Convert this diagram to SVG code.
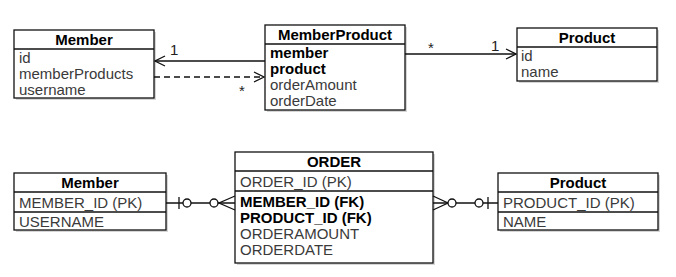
<svg xmlns="http://www.w3.org/2000/svg" width="676" height="277" viewBox="0 0 676 277">
<defs>
<style>
.box{fill:#fff;stroke:#111;stroke-width:1.3}
.sh{fill:#bbb;opacity:0.6}
.sep{stroke:#111;stroke-width:1.3}
.t{font-family:"Liberation Sans",Arial,sans-serif;font-size:15px;font-weight:bold;fill:#000;text-anchor:middle}
.a{font-family:"Liberation Sans",Arial,sans-serif;font-size:15px;fill:#3a3a3a}
.b{font-family:"Liberation Sans",Arial,sans-serif;font-size:15px;font-weight:bold;fill:#000}
.l{font-family:"Liberation Sans",Arial,sans-serif;font-size:15px;fill:#222}
.c{stroke:#111;stroke-width:1.3;fill:none}
.o{stroke:#111;stroke-width:1.3;fill:#fff}
</style>
<marker id="open" viewBox="0 0 12 12" refX="11" refY="6" markerWidth="12" markerHeight="12" markerUnits="userSpaceOnUse" orient="auto">
<path d="M1,1 L11,6 L1,11" fill="none" stroke="#111" stroke-width="1.3"/>
</marker>
</defs>

<g id="member-top">
<rect class="sh" x="16" y="32" width="140" height="68"/>
<rect class="box" x="14" y="30" width="140" height="68"/>
<line class="sep" x1="14" y1="49" x2="154" y2="49"/>
<text class="t" x="84" y="45">Member</text>
<text class="a" x="19" y="63">id</text>
<text class="a" x="19" y="79">memberProducts</text>
<text class="a" x="19" y="95">username</text>
</g>

<g id="memberproduct-top">
<rect class="sh" x="267" y="27" width="140" height="85"/>
<rect class="box" x="265" y="25" width="140" height="85"/>
<line class="sep" x1="265" y1="44" x2="405" y2="44"/>
<text class="t" x="335" y="40">MemberProduct</text>
<text class="b" x="270" y="58">member</text>
<text class="b" x="270" y="74">product</text>
<text class="a" x="270" y="90">orderAmount</text>
<text class="a" x="270" y="106">orderDate</text>
</g>

<g id="product-top">
<rect class="sh" x="519" y="30" width="140" height="53"/>
<rect class="box" x="517" y="28" width="140" height="53"/>
<line class="sep" x1="517" y1="47" x2="657" y2="47"/>
<text class="t" x="587" y="43">Product</text>
<text class="a" x="521" y="61">id</text>
<text class="a" x="521" y="77">name</text>
</g>

<g id="member-bottom">
<rect class="sh" x="16" y="175" width="152" height="57"/>
<rect class="box" x="14" y="173" width="152" height="57"/>
<line class="sep" x1="14" y1="192" x2="166" y2="192"/>
<line class="sep" x1="14" y1="212" x2="166" y2="212"/>
<text class="t" x="90" y="188">Member</text>
<text class="a" x="19" y="208">MEMBER_ID (PK)</text>
<text class="a" x="19" y="227">USERNAME</text>
</g>

<g id="order">
<rect class="sh" x="237" y="154" width="198" height="111"/>
<rect class="box" x="235" y="152" width="198" height="111"/>
<line class="sep" x1="235" y1="171" x2="433" y2="171"/>
<line class="sep" x1="235" y1="191" x2="433" y2="191"/>
<text class="t" x="334" y="167">ORDER</text>
<text class="a" x="240" y="187">ORDER_ID (PK)</text>
<text class="b" x="240" y="207">MEMBER_ID (FK)</text>
<text class="b" x="240" y="223">PRODUCT_ID (FK)</text>
<text class="a" x="240" y="239">ORDERAMOUNT</text>
<text class="a" x="240" y="255">ORDERDATE</text>
</g>

<g id="product-bottom">
<rect class="sh" x="500" y="175" width="160" height="57"/>
<rect class="box" x="498" y="173" width="160" height="57"/>
<line class="sep" x1="498" y1="192" x2="658" y2="192"/>
<line class="sep" x1="498" y1="212" x2="658" y2="212"/>
<text class="t" x="578" y="188">Product</text>
<text class="a" x="503" y="208">PRODUCT_ID (PK)</text>
<text class="a" x="503" y="227">NAME</text>
</g>

<g id="connectors">
<line class="c" x1="265" y1="61" x2="155" y2="61" marker-end="url(#open)"/>
<text class="l" x="170" y="55">1</text>
<line class="c" x1="154" y1="77" x2="264" y2="77" stroke-dasharray="6,4" marker-end="url(#open)"/>
<text class="l" x="239" y="96">*</text>
<line class="c" x1="405" y1="54" x2="516" y2="54" marker-end="url(#open)"/>
<text class="l" x="428" y="53">*</text>
<text class="l" x="491" y="51">1</text>

<line class="c" x1="166" y1="203" x2="235" y2="203"/>
<line class="c" x1="179" y1="197" x2="179" y2="209"/>
<circle class="o" cx="187" cy="203" r="4"/>
<circle class="o" cx="214" cy="203" r="4"/>
<path class="c" d="M235,196 L219,203 L235,210"/>

<line class="c" x1="433" y1="203" x2="498" y2="203"/>
<path class="c" d="M433,196 L448,203 L433,210"/>
<circle class="o" cx="452" cy="203" r="4"/>
<circle class="o" cx="479" cy="203" r="4"/>
<line class="c" x1="488" y1="197" x2="488" y2="209"/>
</g>
</svg>
